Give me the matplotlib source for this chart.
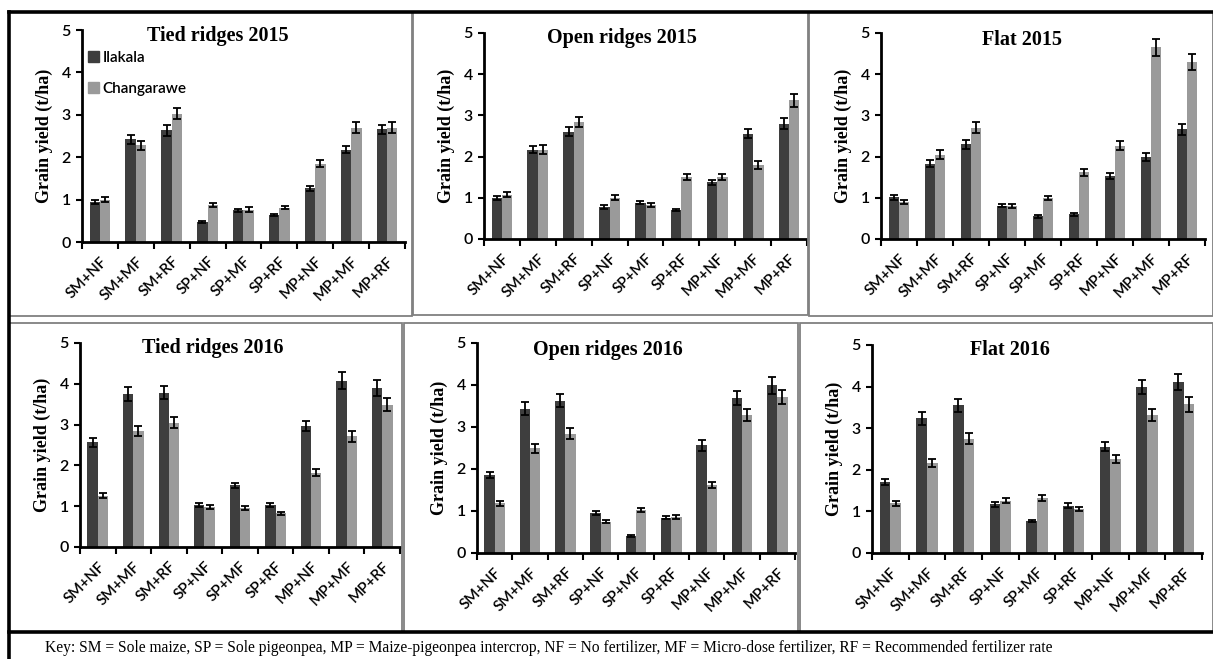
import matplotlib.pyplot as plt
import numpy as np
from matplotlib.lines import Line2D
from matplotlib.patches import Rectangle, Patch

treatments = ['SM+NF', 'SM+MF', 'SM+RF', 'SP+NF', 'SP+MF', 'SP+RF', 'MP+NF', 'MP+MF', 'MP+RF']
sites = ['Ilakala', 'Changarawe']

# Grain yield (t/ha) and standard errors, per tillage system and season
tied15_ila = [0.95, 2.42, 2.63, 0.47, 0.75, 0.64, 1.27, 2.18, 2.66]
tied15_ila_err = [0.05, 0.11, 0.12, 0.03, 0.04, 0.03, 0.06, 0.09, 0.11]
tied15_cha = [1.00, 2.28, 3.03, 0.88, 0.76, 0.81, 1.85, 2.70, 2.70]
tied15_cha_err = [0.06, 0.10, 0.14, 0.05, 0.06, 0.03, 0.09, 0.13, 0.13]

open15_ila = [0.99, 2.17, 2.60, 0.78, 0.88, 0.70, 1.38, 2.56, 2.80]
open15_ila_err = [0.05, 0.09, 0.11, 0.05, 0.04, 0.03, 0.06, 0.11, 0.14]
open15_cha = [1.07, 2.17, 2.85, 1.00, 0.83, 1.50, 1.51, 1.80, 3.37]
open15_cha_err = [0.06, 0.11, 0.12, 0.06, 0.05, 0.08, 0.07, 0.09, 0.16]

flat15_ila = [1.01, 1.83, 2.30, 0.81, 0.55, 0.60, 1.53, 1.99, 2.66]
flat15_ila_err = [0.06, 0.08, 0.11, 0.04, 0.03, 0.03, 0.07, 0.10, 0.13]
flat15_cha = [0.90, 2.05, 2.70, 0.80, 0.99, 1.62, 2.26, 4.65, 4.30]
flat15_cha_err = [0.05, 0.11, 0.13, 0.05, 0.05, 0.08, 0.11, 0.20, 0.20]

tied16_ila = [2.57, 3.74, 3.78, 1.03, 1.51, 1.02, 2.97, 4.08, 3.90]
tied16_ila_err = [0.11, 0.17, 0.16, 0.05, 0.06, 0.05, 0.13, 0.20, 0.19]
tied16_cha = [1.26, 2.84, 3.05, 0.99, 0.96, 0.83, 1.82, 2.71, 3.49]
tied16_cha_err = [0.06, 0.13, 0.14, 0.05, 0.05, 0.04, 0.09, 0.14, 0.15]

open16_ila = [1.86, 3.44, 3.63, 0.96, 0.41, 0.84, 2.56, 3.69, 3.99]
open16_ila_err = [0.08, 0.16, 0.16, 0.05, 0.02, 0.03, 0.14, 0.16, 0.20]
open16_cha = [1.19, 2.49, 2.84, 0.75, 1.02, 0.85, 1.62, 3.29, 3.72]
open16_cha_err = [0.06, 0.11, 0.13, 0.04, 0.05, 0.05, 0.08, 0.15, 0.17]

flat16_ila = [1.70, 3.24, 3.55, 1.17, 0.77, 1.14, 2.55, 4.00, 4.12]
flat16_ila_err = [0.07, 0.16, 0.16, 0.06, 0.03, 0.06, 0.11, 0.17, 0.19]
flat16_cha = [1.20, 2.16, 2.75, 1.26, 1.33, 1.06, 2.26, 3.32, 3.57]
flat16_cha_err = [0.06, 0.10, 0.13, 0.06, 0.07, 0.04, 0.10, 0.14, 0.17]

key_text = ('Key: SM = Sole maize, SP = Sole pigeonpea, MP = Maize-pigeonpea intercrop, '
            'NF = No fertilizer, MF = Micro-dose fertilizer, RF = Recommended fertilizer rate')

W, H = 1213, 659
DARK = '#3e3e3e'
LIGHT = '#9a9a9a'
FRAME = '#808080'

fig = plt.figure(figsize=(W / 100, H / 100), dpi=100)
fig.patch.set_facecolor('white')


def fx(x):
    return x / W


def fy(y):
    return 1 - y / H


# panel outlines (gray) and the heavy black rules
frames = [(9, 12, 412, 316), (413, 12, 808, 315), (809, 12, 1213, 316),
          (9, 323, 402, 632), (404, 323, 798, 632), (800, 323, 1213, 632)]
for x0, y0, x1, y1 in frames:
    fig.add_artist(Rectangle((fx(x0), fy(y1)), fx(x1) - fx(x0), fy(y0) - fy(y1),
                             transform=fig.transFigure, fill=False,
                             edgecolor=FRAME, lw=1.3))
for xs, ys in [((9, 1213), (12, 12)), ((9, 9), (12, 659)), ((9, 1213), (632, 632))]:
    fig.add_artist(Line2D([fx(v) for v in xs], [fy(v) for v in ys],
                          transform=fig.transFigure, color='black', lw=2.6))

panels = [
    ('Tied ridges 2015', tied15_ila, tied15_ila_err, tied15_cha, tied15_cha_err,
     (82, 405, 30, 242), (0.42, 0.97)),
    ('Open ridges 2015', open15_ila, open15_ila_err, open15_cha, open15_cha_err,
     (484, 807, 33, 239), (0.427, 0.976)),
    ('Flat 2015', flat15_ila, flat15_ila_err, flat15_cha, flat15_cha_err,
     (881, 1205, 33, 239), (0.435, 0.966)),
    ('Tied ridges 2016', tied16_ila, tied16_ila_err, tied16_cha, tied16_cha_err,
     (80, 400, 343, 547), (0.416, 0.975)),
    ('Open ridges 2016', open16_ila, open16_ila_err, open16_cha, open16_cha_err,
     (477, 795, 343, 553), (0.41, 0.967)),
    ('Flat 2016', flat16_ila, flat16_ila_err, flat16_cha, flat16_cha_err,
     (872, 1202, 345, 553), (0.418, 0.976)),
]

x = np.arange(len(treatments))
bw = 0.29
err_kw = dict(ecolor='black', elinewidth=1.3, capsize=3, capthick=1.3)

for i, (title, ila, ila_err, cha, cha_err, box, tpos) in enumerate(panels):
    x0, x1, ytop, ybot = box
    ax = fig.add_axes([fx(x0), fy(ybot), fx(x1) - fx(x0), fy(ytop) - fy(ybot)])
    ax.bar(x - bw / 2, ila, bw, yerr=ila_err, color=DARK, error_kw=err_kw, zorder=2)
    ax.bar(x + bw / 2, cha, bw, yerr=cha_err, color=LIGHT, error_kw=err_kw, zorder=2)

    ax.set_xlim(-0.5, len(treatments) - 0.5)
    ax.set_ylim(0, 5)
    ax.set_yticks(range(6))
    ax.tick_params(axis='y', direction='out', length=4, width=1.5, labelsize=11.5, pad=4)
    for lab in ax.get_yticklabels():
        lab.set_fontfamily('Lato')
        lab.set_fontweight('semibold')

    # category boundaries carry the tick marks, labels sit on the centres
    ax.set_xticks(np.arange(-0.5, len(treatments)), minor=False)
    ax.set_xticklabels([])
    ax.tick_params(axis='x', which='major', direction='out', length=5, width=1.5)
    ax.set_xticks(x, minor=True)
    ax.set_xticklabels(treatments, minor=True, rotation=45, ha='right',
                       rotation_mode='anchor', fontsize=11, fontfamily='Lato',
                       fontweight='semibold')
    ax.tick_params(axis='x', which='minor', length=0, pad=9)

    for side in ['top', 'right']:
        ax.spines[side].set_visible(False)
    for side in ['left', 'bottom']:
        ax.spines[side].set_linewidth(2)

    ax.set_ylabel('Grain yield (t/ha)', fontfamily='Liberation Serif',
                  fontweight='bold', fontsize=13, labelpad=6)
    ax.text(tpos[0], tpos[1], title, transform=ax.transAxes, ha='center', va='center',
            fontfamily='Liberation Serif', fontweight='bold', fontsize=14.5)

    if i == 0:
        handles = [Patch(color=DARK), Patch(color=LIGHT)]
        ax.legend(handles, sites, loc='upper left', bbox_to_anchor=(0.0, 0.93),
                  frameon=False, handlelength=0.7, handleheight=0.7,
                  handletextpad=0.25, labelspacing=1.1, borderaxespad=0,
                  prop={'family': 'Lato', 'size': 11, 'weight': 'semibold'})

fig.text(fx(45), fy(648), key_text, ha='left', va='center',
         fontfamily='Liberation Serif', fontsize=11.2)

fig.savefig('out.png', dpi=100)
